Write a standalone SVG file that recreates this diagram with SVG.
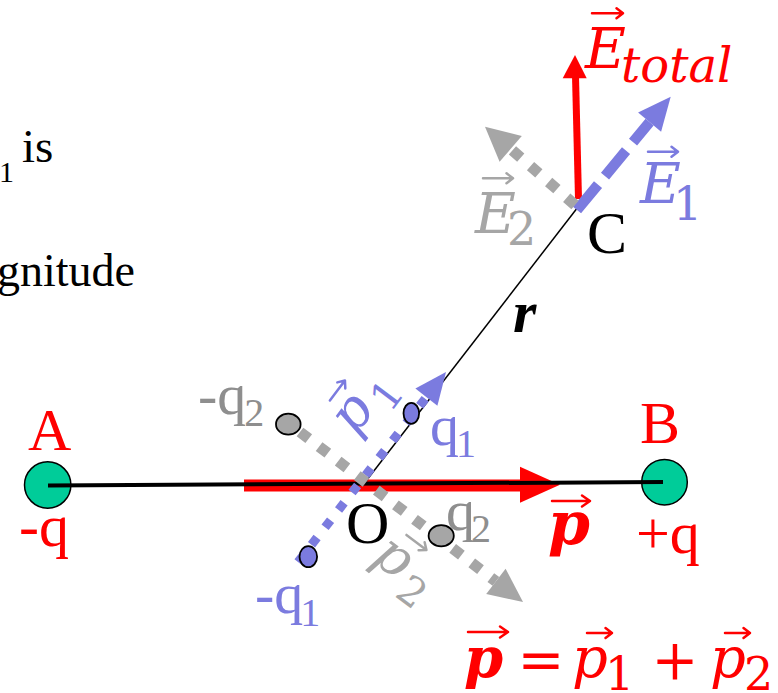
<svg xmlns="http://www.w3.org/2000/svg" width="778" height="693" viewBox="0 0 778 693">
<style>
.tn{font-family:"Liberation Serif","Times New Roman",serif}
.mi{font-family:"DejaVu Serif",serif;font-style:italic}
.up{font-style:normal}
.red{fill:#FF0000}
.blue{fill:#7B7BDF}
.gray{fill:#A6A6A6}
.dgray{fill:#8E8E8E}
.blk{fill:#000000}
.acc{fill:none;stroke-width:2.5;stroke-linecap:round;stroke-linejoin:round}
.charge{fill:#00CC99;stroke:#000;stroke-width:1.5}
.pt-gray{fill:#A6A6A6;stroke:#000;stroke-width:1.8}
.pt-blue{fill:#7B7BDF;stroke:#000;stroke-width:1.8}
.dot-gray{stroke:#A6A6A6;stroke-width:11;stroke-dasharray:11 13;fill:none}
.dot-blue{stroke:#7B7BDF;stroke-width:9;stroke-dasharray:9 13;fill:none}
.dash-blue{stroke:#7B7BDF;stroke-width:10.5;stroke-dasharray:33 11;fill:none}
</style>

<g id="left-text" class="tn blk">
  <text x="-1" y="182" font-size="30">1</text>
  <text x="22" y="162" font-size="47">is</text>
  <text x="-3" y="286" font-size="46">gnitude</text>
</g>

<g id="charge-A"><circle class="charge" cx="47.7" cy="485" r="23.2"/></g>
<g id="charge-B"><circle class="charge" cx="664.5" cy="482.2" r="22.8"/></g>

<g id="connectors">
  <line x1="244" y1="485.5" x2="522" y2="485.5" stroke="#FF0000" stroke-width="12"/>
  <polygon points="520,466.7 560,484.7 520,502.7" fill="#FF0000"/>
  <line x1="48" y1="485.5" x2="663" y2="482" stroke="#000" stroke-width="4"/>
  <line x1="363" y1="485" x2="578" y2="207" stroke="#000" stroke-width="1.5"/>
  <line class="dot-blue" x1="298" y1="562" x2="426.4" y2="397.2"/>
  <polygon points="446,372 437.4,405.8 415.4,388.6" fill="#7B7BDF"/>
  <line class="dot-gray" x1="300" y1="432" x2="495.9" y2="581.4"/>
  <polygon points="523,602 486.2,594.1 505.6,568.7" fill="#A6A6A6"/>
  <line x1="578.5" y1="199" x2="575.5" y2="76" stroke="#FF0000" stroke-width="7"/>
  <polygon points="575,55 562.7,78.3 586.7,78.3" fill="#FF0000"/>
  <line class="dash-blue" x1="577" y1="210" x2="649.6" y2="122.1"/>
  <polygon points="670.7,96.7 661.1,131.7 638.1,112.5" fill="#7B7BDF"/>
  <line class="dot-gray" x1="575" y1="205" x2="510.7" y2="148.9"/>
  <polygon points="485,126.7 521.8,136 499.6,161.8" fill="#A6A6A6"/>
</g>

<g id="point-minus-q2"><ellipse class="pt-gray" cx="288.3" cy="424.2" rx="12.3" ry="10.5"/></g>
<g id="point-q2"><ellipse class="pt-gray" cx="441.2" cy="535.8" rx="12.6" ry="10.6"/></g>
<g id="point-q1"><ellipse class="pt-blue" cx="411.3" cy="413.3" rx="7.8" ry="10.5"/></g>
<g id="point-minus-q1"><ellipse class="pt-blue" cx="308.3" cy="556.7" rx="8.8" ry="10.5"/></g>

<g id="label-A" class="tn red"><text x="28" y="450" font-size="60">A</text><text x="19" y="546" font-size="60">-q</text></g>
<g id="label-B" class="tn red"><text x="640" y="443" font-size="60">B</text><text x="636" y="553" font-size="60">+q</text></g>
<g id="label-O" class="tn blk"><text x="346" y="543" font-size="60">O</text></g>
<g id="label-C" class="tn blk"><text x="587" y="253" font-size="60">C</text></g>
<g id="label-r" class="tn blk"><text x="513" y="332" font-size="60" font-style="italic" font-weight="bold">r</text></g>

<g id="label-q1" class="tn blue"><text x="430" y="445" font-size="58">q<tspan font-size="40" dy="12" dx="-3">1</tspan></text></g>
<g id="label-minus-q1" class="tn blue"><text x="255" y="613" font-size="58">-q<tspan font-size="40" dy="13" dx="-3">1</tspan></text></g>
<g id="label-minus-q2" class="tn dgray"><text x="198" y="414" font-size="58">-q<tspan font-size="40" dy="12" dx="-2">2</tspan></text></g>
<g id="label-q2" class="tn dgray"><text x="446" y="530" font-size="58">q<tspan font-size="40" dy="12" dx="-4">2</tspan></text></g>

<g id="label-p1" transform="translate(355,437) rotate(-53)">
  <text class="mi blue" x="0" y="0" font-size="54">p<tspan class="up" x="40" y="14" font-size="40">1</tspan></text>
  <path class="acc" stroke="#7B7BDF" d="M14,-42 H39 M33,-47 L39,-42 L33,-37"/>
</g>
<g id="label-p2" transform="translate(370,560) rotate(37)">
  <text class="mi gray" x="0" y="0" font-size="54">p<tspan class="up" x="40" y="14" font-size="40">2</tspan></text>
  <path class="acc" stroke="#A6A6A6" d="M14,-42 H39 M33,-47 L39,-42 L33,-37"/>
</g>

<g id="label-Etotal" class="mi red">
  <text x="585" y="68" font-size="56">E</text>
  <text x="621" y="82" font-size="48">total</text>
  <path class="acc" stroke="#FF0000" d="M592,13.3 H623 M616.5,8.3 L623,13.3 L616.5,18.3"/>
</g>
<g id="label-E1" class="mi blue">
  <text x="640" y="203" font-size="56">E</text>
  <text class="up" x="673" y="220" font-size="46">1</text>
  <path class="acc" stroke="#7B7BDF" d="M648,151.7 H678 M671.5,146.7 L678,151.7 L671.5,156.7"/>
</g>
<g id="label-E2" class="mi gray">
  <text x="475" y="233" font-size="56">E</text>
  <text class="up" x="507" y="245" font-size="46">2</text>
  <path class="acc" stroke="#A6A6A6" d="M483,178.3 H513 M506.5,173.3 L513,178.3 L506.5,183.3"/>
</g>

<g id="label-p" class="mi red">
  <text x="548" y="544" font-size="60" font-weight="bold">p</text>
  <path class="acc" stroke="#FF0000" stroke-width="3.5" d="M552,501 H590 M582,495.5 L590,501 L582,506.5"/>
</g>

<g id="equation" class="mi red">
  <text x="464" y="677" font-size="56" font-weight="bold">p</text>
  <path class="acc" stroke="#FF0000" stroke-width="3.5" d="M468,632 H508 M500,626.5 L508,632 L500,637.5"/>
  <text class="up" x="541" y="679" font-size="56" text-anchor="middle">=</text>
  <text x="572" y="677" font-size="56">p</text>
  <text class="up" x="605" y="690" font-size="46">1</text>
  <path class="acc" stroke="#FF0000" d="M587,633 H612 M605.5,628 L612,633 L605.5,638"/>
  <text class="up" x="675" y="679" font-size="56" text-anchor="middle">+</text>
  <text x="710" y="677" font-size="56">p</text>
  <text class="up" x="744" y="690" font-size="46">2</text>
  <path class="acc" stroke="#FF0000" d="M725,633 H750 M743.5,628 L750,633 L743.5,638"/>
</g>
</svg>
